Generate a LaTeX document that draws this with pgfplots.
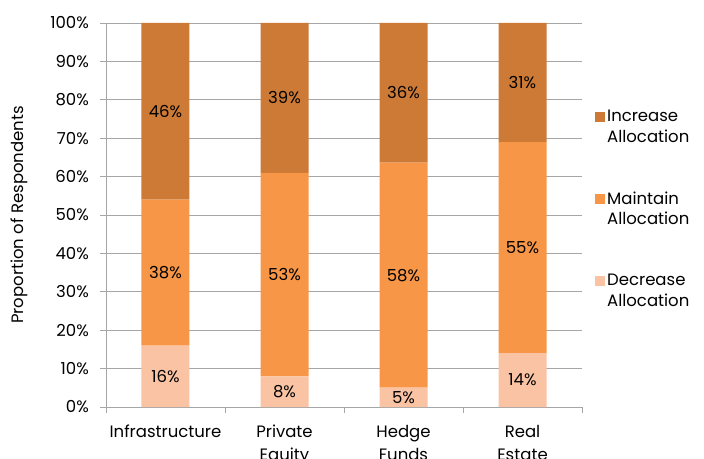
\documentclass[border=0pt]{standalone}
\usepackage{fontspec}
\setmainfont{Poppins}
\usepackage{pgfplots}
\pgfplotsset{compat=1.18}
\usepackage{pgfplotstable}
\definecolor{incr}{HTML}{CC7A36}
\definecolor{maint}{HTML}{F79646}
\definecolor{decr}{HTML}{FAC3A4}
\definecolor{gridc}{HTML}{A6A6A6}
\pgfplotstableread{
x dec main inc declab mainlab inclab
0 16 38 46 16 38 46
1 8 53 39 8 53 39
2 5.05 58.59 36.36 5 58 36
3 14 55 31 14 55 31
}\data
\begin{document}
\begin{tikzpicture}[font=\fontsize{16.5bp}{20.5bp}\selectfont]
\begin{axis}[
  at={(0,0)}, anchor=south west,
  scale only axis, width=476bp, height=384bp,
  ybar stacked, bar width=48bp,
  xmin=-0.5, xmax=3.5, ymin=0, ymax=100,
  axis x line*=bottom, axis y line*=left,
  axis line style={gridc, line width=0.9bp},
  ytick={0,10,...,100},
  yticklabel={\pgfmathprintnumber[fixed,precision=0]{\tick}\%},
  /pgf/number format/assume math mode=true,
  xtick={0,1,2,3},
  xticklabels={Infrastructure,{Private\\Equity},{Hedge\\Funds},{Real\\Estate}},
  xticklabel style={align=center, anchor=north, inner sep=0pt, yshift=-12bp,
    font=\fontsize{16.5bp}{23bp}\selectfont},
  yticklabel style={anchor=east, inner sep=0pt, xshift=-11bp},
  minor xtick={-0.5,0.5,1.5,2.5,3.5},
  x tick style={draw=none},
  minor x tick style={draw=gridc, line width=0.9bp},
  y tick style={draw=gridc, line width=0.9bp},
  tick align=outside, major tick length=6bp, minor tick length=6bp,
  ymajorgrids, grid style={gridc, line width=0.9bp},
  ylabel={Proportion of Respondents},
  every axis y label/.style={at={(axis description cs:0,0.5)}, xshift=-87bp, rotate=90, anchor=center},
  point meta=explicit symbolic,
  nodes near coords={\pgfplotspointmeta\%},
  every node near coord/.append style={anchor=center},
  legend cell align=left,
  reverse legend,
  legend style={at={(1,0.516)}, anchor=west, xshift=13bp, draw=none, fill=none,
    inner sep=0pt, row sep=44bp, cells={align=left, xshift=2bp}},
  legend image code/.code={\fill[#1] (0bp,4.5bp) rectangle (10bp,14.5bp);},
]
\addplot[fill=decr, draw=none] table[x=x, y=dec, meta=declab] {\data};
\addplot[fill=maint, draw=none] table[x=x, y=main, meta=mainlab] {\data};
\addplot[fill=incr, draw=none] table[x=x, y=inc, meta=inclab] {\data};
\legend{{Decrease\\Allocation},{Maintain\\Allocation},{Increase\\Allocation}}
\end{axis}
\pgfresetboundingbox
\path (-106bp,-52bp) rectangle (598bp,407bp);
\end{tikzpicture}
\end{document}
